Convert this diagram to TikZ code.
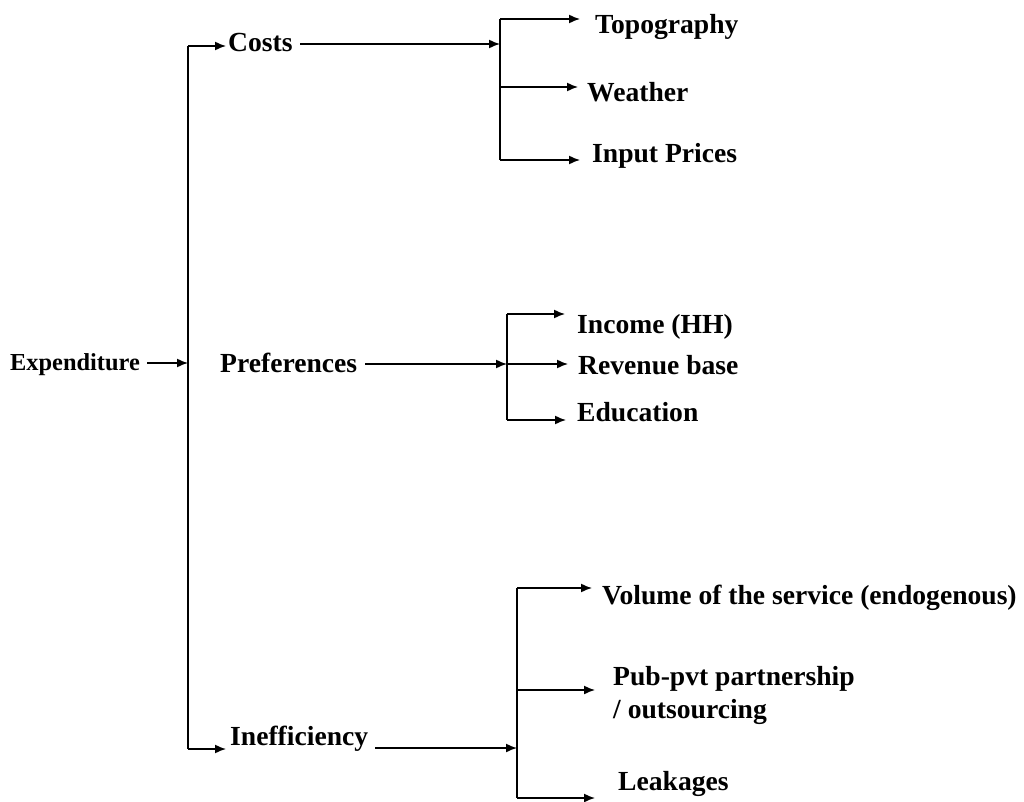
\documentclass[tikz,border=0pt]{standalone}
\usepackage{fontspec}
\setmainfont{Liberation Serif}
\usetikzlibrary{arrows.meta}
\begin{document}
\begin{tikzpicture}[x=1pt,y=-1pt,
  lbl/.style={anchor=base west,inner sep=0pt,font=\fontsize{27.6}{33}\selectfont\bfseries},
  small/.style={anchor=base west,inner sep=0pt,font=\fontsize{24.4}{29}\selectfont\bfseries},
  conn/.style={line width=1.5pt},
  arr/.style={conn,-{Latex[length=11pt,width=9pt]}}]
\useasboundingbox (0,0) rectangle (1024,802);
% text nodes
\node[small] (exp) at (10,370) {Expenditure};
\node[lbl] (costs) at (228,52) {Costs};
\node[lbl] (pref) at (220,372) {Preferences};
\node[lbl] (ineff) at (230,745) {Inefficiency};
\node[lbl] (topo) at (595,34) {Topography};
\node[lbl] (weather) at (587,102) {Weather};
\node[lbl] (input) at (592,163) {Input Prices};
\node[lbl] (income) at (577,333) {Income (HH)};
\node[lbl] (revenue) at (578,374) {Revenue base};
\node[lbl] (edu) at (577,421) {Education};
\node[lbl] (volume) at (602,604) {Volume of the service (endogenous)};
\node[lbl,anchor=north west,align=left] (pub) at (613,666) {Pub-pvt partnership\\/ outsourcing};
\node[lbl] (leak) at (618,790) {Leakages};
% junction coordinates
\coordinate (expOut) at (147,363);
\coordinate (mainMid) at (188,363);
\coordinate (mainTop) at (188,46);
\coordinate (mainBot) at (188,749);
\coordinate (costsIn) at (226,46);
\coordinate (ineffIn) at (226,749);
\coordinate (costsOut) at (300,44);
\coordinate (cJ) at (500,44);
\coordinate (cTop) at (500,19);
\coordinate (cMid) at (500,87);
\coordinate (cBot) at (500,160);
\coordinate (topoIn) at (580,19);
\coordinate (weatherIn) at (578,87);
\coordinate (inputIn) at (580,160);
\coordinate (prefOut) at (365,364);
\coordinate (pJ) at (507,364);
\coordinate (pTop) at (507,314);
\coordinate (pBot) at (507,420);
\coordinate (incomeIn) at (565,314);
\coordinate (revenueIn) at (568,364);
\coordinate (eduIn) at (566,420);
\coordinate (ineffOut) at (375,748);
\coordinate (iJ) at (517,748);
\coordinate (iTop) at (517,588);
\coordinate (iMid) at (517,690);
\coordinate (iBot) at (517,798);
\coordinate (volumeIn) at (592,588);
\coordinate (pubIn) at (595,690);
\coordinate (leakIn) at (595,798);
% connectors
\draw[arr] (expOut) -- (mainMid);
\draw[conn] (mainTop) -- (mainBot);
\draw[arr] (mainTop) -- (costsIn);
\draw[arr] (mainBot) -- (ineffIn);
\draw[arr] (costsOut) -- (cJ);
\draw[conn] (cTop) -- (cBot);
\draw[arr] (cTop) -- (topoIn);
\draw[arr] (cMid) -- (weatherIn);
\draw[arr] (cBot) -- (inputIn);
\draw[arr] (prefOut) -- (pJ);
\draw[conn] (pTop) -- (pBot);
\draw[arr] (pTop) -- (incomeIn);
\draw[arr] (pJ) -- (revenueIn);
\draw[arr] (pBot) -- (eduIn);
\draw[arr] (ineffOut) -- (iJ);
\draw[conn] (iTop) -- (iBot);
\draw[arr] (iTop) -- (volumeIn);
\draw[arr] (iMid) -- (pubIn);
\draw[arr] (iBot) -- (leakIn);
\end{tikzpicture}
\end{document}
